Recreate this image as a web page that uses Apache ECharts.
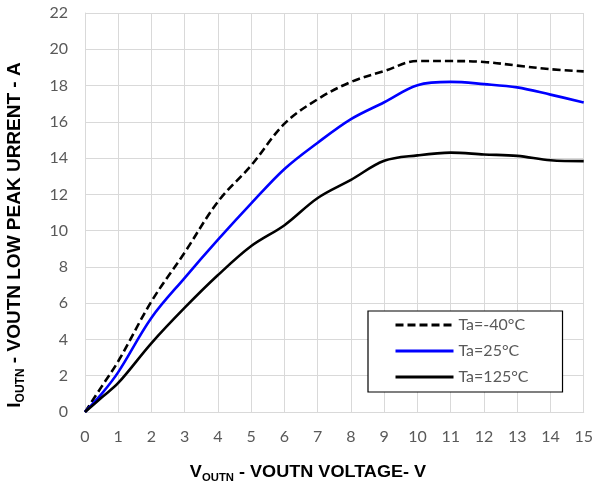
<!DOCTYPE html>
<html>
<head>
<meta charset="utf-8">
<script src="https://cdn.jsdelivr.net/npm/echarts@6/dist/echarts.min.js"></script>
<style>
html,body{margin:0;padding:0;background:#fff;}
#chart{width:596px;height:489px;}
</style>
</head>
<body>
<div id="chart"></div>
<script>
const voltage = [0, 0.5, 1, 2, 3, 4, 5, 6, 7, 8, 9, 10, 11, 12, 13, 14, 15];
const ta_m40 = [0, 1.4, 2.8, 6.1, 8.8, 11.6, 13.6, 15.9, 17.25, 18.2, 18.8, 19.35, 19.35, 19.3, 19.1, 18.9, 18.78];
const ta_25 = [0, 1.0, 2.2, 5.2, 7.4, 9.5, 11.5, 13.4, 14.85, 16.15, 17.08, 18.02, 18.2, 18.08, 17.9, 17.5, 17.07];
const ta_125 = [0, 0.8, 1.6, 3.8, 5.75, 7.55, 9.15, 10.3, 11.8, 12.8, 13.85, 14.15, 14.3, 14.2, 14.12, 13.88, 13.83];
const seriesNames = ['Ta=-40°C', 'Ta=25°C', 'Ta=125°C'];
const xTicks = {min: 0, max: 15, interval: 1};
const yTicks = {min: 0, max: 22, interval: 2};

function pairs(arr){ return voltage.map((v,i)=>[v, arr[i]]); }

const chart = echarts.init(document.getElementById('chart'), null, {renderer:'canvas'});
const labelFont = 'Lato';
const titleFont = 'Liberation Sans';
chart.setOption({
  animation: false,
  backgroundColor: '#fff',
  grid: {left: 85, right: 10, top: 13, bottom: 77, containLabel: false},
  xAxis: {
    type: 'value', min: xTicks.min, max: xTicks.max, interval: xTicks.interval,
    axisLine: {show: true, lineStyle: {color: '#D9D9D9', width: 1}},
    axisTick: {show: false},
    splitLine: {show: true, lineStyle: {color: '#D9D9D9', width: 1}},
    axisLabel: {color: '#595959', fontSize: 16, fontFamily: labelFont, margin: 17}
  },
  yAxis: {
    type: 'value', min: yTicks.min, max: yTicks.max, interval: yTicks.interval,
    axisLine: {show: true, lineStyle: {color: '#D9D9D9', width: 1}},
    axisTick: {show: false},
    splitLine: {show: true, lineStyle: {color: '#D9D9D9', width: 1}},
    axisLabel: {color: '#595959', fontSize: 16, fontFamily: labelFont, margin: 17}
  },
  legend: {
    orient: 'vertical',
    left: 368, top: 311,
    width: 190,
    backgroundColor: '#fff',
    borderColor: '#000', borderWidth: 1.2,
    padding: [6, 34, 7, 26],
    itemWidth: 58, itemHeight: 16, itemGap: 10,
    itemStyle: {opacity: 0},
    lineStyle: {width: 3},
    textStyle: {color: '#595959', fontSize: 16, fontFamily: labelFont},
    data: seriesNames
  },
  series: [
    {name: seriesNames[0], type: 'line', data: pairs(ta_m40), smooth: 0.35, showSymbol: false, symbol: 'none',
      lineStyle: {color: '#000', width: 2.6, type: [8, 4]}, itemStyle: {color: '#000'}},
    {name: seriesNames[1], type: 'line', data: pairs(ta_25), smooth: 0.35, showSymbol: false, symbol: 'none',
      lineStyle: {color: '#0000FF', width: 2.6}, itemStyle: {color: '#0000FF'}},
    {name: seriesNames[2], type: 'line', data: pairs(ta_125), smooth: 0.35, showSymbol: false, symbol: 'none',
      lineStyle: {color: '#000', width: 2.6}, itemStyle: {color: '#000'}}
  ],
  graphic: [
    {
      type: 'text', x: 308, y: 473, scaleX: 1.13,
      style: {
        text: '{b|V}{s|OUTN}{b| - VOUTN VOLTAGE- V}',
        align: 'center', verticalAlign: 'middle',
        rich: {
          b: {fontSize: 16, fontWeight: 'bold', fontFamily: titleFont, fill: '#000', lineHeight: 20, verticalAlign: 'middle'},
          s: {fontSize: 10, fontWeight: 'bold', fontFamily: titleFont, fill: '#000', lineHeight: 20, verticalAlign: 'bottom'}
        }
      }
    },
    {
      type: 'text', x: 15, y: 235, rotation: Math.PI / 2,
      style: {
        text: '{b|I}{s|OUTN}{b| - VOUTN LOW PEAK URRENT - A}',
        align: 'center', verticalAlign: 'middle',
        rich: {
          b: {fontSize: 19, fontWeight: 'bold', fontFamily: titleFont, fill: '#000', lineHeight: 23, verticalAlign: 'middle'},
          s: {fontSize: 12, fontWeight: 'bold', fontFamily: titleFont, fill: '#000', lineHeight: 23, verticalAlign: 'bottom'}
        }
      }
    }
  ]
});
</script>
</body>
</html>
